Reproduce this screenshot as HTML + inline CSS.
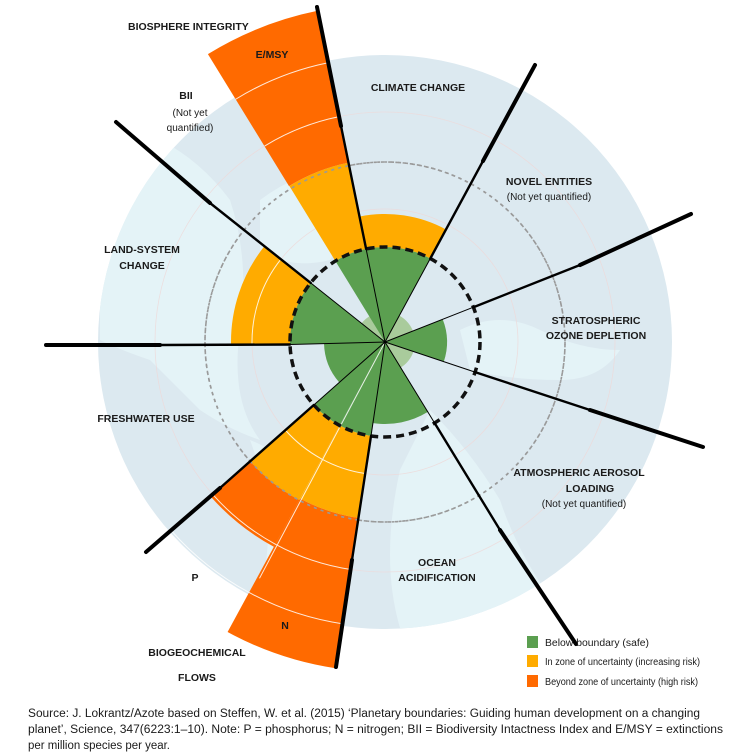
<!DOCTYPE html>
<html><head><meta charset="utf-8"><style>
html,body{margin:0;padding:0;background:#fff;}
svg{display:block;}
text{font-family:"Liberation Sans",sans-serif;fill:#1a1a1a;}
.lb{font-size:10.5px;font-weight:bold;}
.sm{font-size:10px;}
</style></head><body>
<svg width="748" height="755" viewBox="0 0 748 755" xmlns="http://www.w3.org/2000/svg">
<defs><clipPath id="g"><circle cx="385" cy="342" r="287"/></clipPath></defs>
<circle cx="385" cy="342" r="287" fill="#dce9f0"/>
<g fill="#e4f3f7" clip-path="url(#g)">
<path d="M100 300 Q110 200 160 140 Q200 160 230 200 Q250 260 240 330 Q230 400 260 440 Q230 430 200 410 Q170 380 150 360 Q120 350 100 340 Z"/>
<path d="M260 200 Q300 170 340 170 Q350 230 330 260 Q290 270 260 250 Z"/>
<path d="M250 440 Q300 460 340 520 Q360 600 330 628 Q280 620 260 590 Q280 520 250 440 Z"/>
<path d="M430 410 Q470 450 500 500 Q520 560 560 610 Q480 630 400 628 Q380 560 400 470 Z"/>
<path d="M460 330 Q500 310 540 330 Q580 350 620 350 Q600 380 560 380 Q510 380 470 370 Z"/>
<path d="M130 510 Q170 540 210 600 Q160 580 130 540 Z"/>
</g>
<g fill="none" stroke="#eed9d9" stroke-width="0.8" opacity="0.8">
<circle cx="385" cy="342" r="133"/><circle cx="385" cy="342" r="230"/>
</g>
<circle cx="385" cy="342" r="180" fill="none" stroke="#9a9a9a" stroke-width="1.6" stroke-dasharray="3 4"/>
<circle cx="385" cy="342" r="30" fill="#a9cb9c"/>
<g fill="none">
<circle cx="385" cy="342" r="47.5" stroke="#5b9f50" stroke-width="95" pathLength="360" stroke-dasharray="40 320" transform="rotate(-101.5 385 342)"/>
<circle cx="385" cy="342" r="111.5" stroke="#ffab00" stroke-width="33" pathLength="360" stroke-dasharray="40 320" transform="rotate(-101.5 385 342)"/>
<circle cx="385" cy="342" r="31" stroke="#5b9f50" stroke-width="62" pathLength="360" stroke-dasharray="40 320" transform="rotate(-21.5 385 342)"/>
<circle cx="385" cy="342" r="41" stroke="#5b9f50" stroke-width="82" pathLength="360" stroke-dasharray="40 320" transform="rotate(58.5 385 342)"/>
<circle cx="385" cy="342" r="47.5" stroke="#5b9f50" stroke-width="95" pathLength="360" stroke-dasharray="20 340" transform="rotate(98.5 385 342)"/>
<circle cx="385" cy="342" r="136.5" stroke="#ffab00" stroke-width="83" pathLength="360" stroke-dasharray="20 340" transform="rotate(98.5 385 342)"/>
<circle cx="385" cy="342" r="254" stroke="#ff6a00" stroke-width="152" pathLength="360" stroke-dasharray="20 340" transform="rotate(98.5 385 342)"/>
<circle cx="385" cy="342" r="47.5" stroke="#5b9f50" stroke-width="95" pathLength="360" stroke-dasharray="20 340" transform="rotate(118.5 385 342)"/>
<circle cx="385" cy="342" r="137.5" stroke="#ffab00" stroke-width="85" pathLength="360" stroke-dasharray="20 340" transform="rotate(118.5 385 342)"/>
<circle cx="385" cy="342" r="206.5" stroke="#ff6a00" stroke-width="53" pathLength="360" stroke-dasharray="20 340" transform="rotate(118.5 385 342)"/>
<circle cx="385" cy="342" r="30.5" stroke="#5b9f50" stroke-width="61" pathLength="360" stroke-dasharray="40 320" transform="rotate(138.5 385 342)"/>
<circle cx="385" cy="342" r="47.5" stroke="#5b9f50" stroke-width="95" pathLength="360" stroke-dasharray="40 320" transform="rotate(178.5 385 342)"/>
<circle cx="385" cy="342" r="124.5" stroke="#ffab00" stroke-width="59" pathLength="360" stroke-dasharray="40 320" transform="rotate(178.5 385 342)"/>
<circle cx="385" cy="342" r="47.5" stroke="#5b9f50" stroke-width="95" pathLength="360" stroke-dasharray="20 340" transform="rotate(238.5 385 342)"/>
<circle cx="385" cy="342" r="139" stroke="#ffab00" stroke-width="88" pathLength="360" stroke-dasharray="20 340" transform="rotate(238.5 385 342)"/>
<circle cx="385" cy="342" r="260.5" stroke="#ff6a00" stroke-width="155" pathLength="360" stroke-dasharray="20 340" transform="rotate(238.5 385 342)"/>
</g>
<g fill="none" stroke="#fff" stroke-width="1" opacity="0.85">
<circle cx="385" cy="342" r="133" pathLength="360" stroke-dasharray="40 320" transform="rotate(98.5 385 342)"/>
<circle cx="385" cy="342" r="230" pathLength="360" stroke-dasharray="40 320" transform="rotate(98.5 385 342)"/>
<circle cx="385" cy="342" r="285" pathLength="360" stroke-dasharray="40 320" transform="rotate(98.5 385 342)"/>
<circle cx="385" cy="342" r="133" pathLength="360" stroke-dasharray="40 320" transform="rotate(178.5 385 342)"/>
<circle cx="385" cy="342" r="230" pathLength="360" stroke-dasharray="20 340" transform="rotate(238.5 385 342)"/>
<circle cx="385" cy="342" r="285" pathLength="360" stroke-dasharray="20 340" transform="rotate(238.5 385 342)"/>
<line x1="385" y1="342" x2="259.5" y2="578.3"/>
</g>
<circle cx="385" cy="342" r="180" fill="none" stroke="#9a9a9a" stroke-width="1.6" pathLength="360" stroke-dasharray="1 1.3" transform="rotate(98.5 385 342)"/>
<circle cx="385" cy="342" r="95" fill="none" stroke="#111" stroke-width="3.5" stroke-dasharray="8 5"/>
<g stroke="#000" stroke-linecap="round">
<g stroke-width="1">
<line x1="385" y1="342" x2="366.1" y2="248.9"/><line x1="385" y1="342" x2="430.3" y2="258.5"/>
<line x1="385" y1="342" x2="473.4" y2="307.2"/><line x1="385" y1="342" x2="475.1" y2="372.1"/>
<line x1="385" y1="342" x2="434.6" y2="423"/><line x1="385" y1="342" x2="371" y2="436"/>
<line x1="385" y1="342" x2="313.8" y2="405"/><line x1="385" y1="342" x2="290" y2="344.5"/>
<line x1="385" y1="342" x2="310.7" y2="282.9"/>
</g>
<g stroke-width="2.4">
<line x1="366.1" y1="248.9" x2="341" y2="126"/><line x1="430.3" y1="258.5" x2="483" y2="161"/>
<line x1="473.4" y1="307.2" x2="580" y2="265"/><line x1="475.1" y1="372.1" x2="590" y2="410"/>
<line x1="434.6" y1="423" x2="500" y2="530"/><line x1="371" y1="436" x2="352" y2="560"/>
<line x1="313.8" y1="405" x2="220" y2="488"/><line x1="290" y1="344.5" x2="160" y2="345"/>
<line x1="310.7" y1="282.9" x2="210" y2="203"/>
</g>
<g stroke-width="4">
<line x1="341" y1="126" x2="317" y2="7"/><line x1="483" y1="161" x2="535" y2="65"/>
<line x1="580" y1="265" x2="691" y2="214"/><line x1="590" y1="410" x2="703" y2="447"/>
<line x1="500" y1="530" x2="576" y2="644"/><line x1="352" y1="560" x2="336" y2="667"/>
<line x1="220" y1="488" x2="146" y2="552"/><line x1="160" y1="345" x2="46" y2="345"/>
<line x1="210" y1="203" x2="116" y2="122"/>
</g>
</g>
<text class="lb" x="128" y="30">BIOSPHERE INTEGRITY</text>
<text class="lb" x="272" y="58" text-anchor="middle" font-size="12">E/MSY</text>
<text class="lb" x="186" y="99" text-anchor="middle" font-size="12">BII</text>
<text class="sm" x="190" y="116" text-anchor="middle">(Not yet</text>
<text class="sm" x="190" y="131" text-anchor="middle">quantified)</text>
<text class="lb" x="418" y="91" text-anchor="middle">CLIMATE CHANGE</text>
<text class="lb" x="549" y="185" text-anchor="middle">NOVEL ENTITIES</text>
<text class="sm" x="549" y="200" text-anchor="middle">(Not yet quantified)</text>
<text class="lb" x="596" y="324" text-anchor="middle">STRATOSPHERIC</text>
<text class="lb" x="596" y="339" text-anchor="middle">OZONE DEPLETION</text>
<text class="lb" x="142" y="253" text-anchor="middle">LAND-SYSTEM</text>
<text class="lb" x="142" y="269" text-anchor="middle">CHANGE</text>
<text class="lb" x="146" y="422" text-anchor="middle">FRESHWATER USE</text>
<text class="lb" x="579" y="476" text-anchor="middle">ATMOSPHERIC AEROSOL</text>
<text class="lb" x="590" y="492" text-anchor="middle">LOADING</text>
<text class="sm" x="584" y="507" text-anchor="middle">(Not yet quantified)</text>
<text class="lb" x="437" y="566" text-anchor="middle">OCEAN</text>
<text class="lb" x="437" y="581" text-anchor="middle">ACIDIFICATION</text>
<text class="lb" x="195" y="581" text-anchor="middle" font-size="12">P</text>
<text class="lb" x="285" y="629" text-anchor="middle" font-size="12">N</text>
<text class="lb" x="197" y="656" text-anchor="middle">BIOGEOCHEMICAL</text>
<text class="lb" x="197" y="681" text-anchor="middle">FLOWS</text>
<rect x="527" y="636" width="11" height="12" fill="#5b9f50"/>
<rect x="527" y="655" width="11" height="12" fill="#ffab00"/>
<rect x="527" y="675" width="11" height="12" fill="#ff6a00"/>
<text class="sm" x="545" y="646" textLength="104" lengthAdjust="spacingAndGlyphs">Below boundary (safe)</text>
<text class="sm" x="545" y="665" textLength="155" lengthAdjust="spacingAndGlyphs">In zone of uncertainty (increasing risk)</text>
<text class="sm" x="545" y="685" textLength="153" lengthAdjust="spacingAndGlyphs">Beyond zone of uncertainty (high risk)</text>
<text x="28" y="717" textLength="672" lengthAdjust="spacingAndGlyphs" style="font-size:11.5px">Source: J. Lokrantz/Azote based on Steffen, W. et al. (2015) ‘Planetary boundaries: Guiding human development on a changing</text>
<text x="28" y="733" textLength="695" lengthAdjust="spacingAndGlyphs" style="font-size:11.5px">planet’, Science, 347(6223:1–10). Note: P = phosphorus; N = nitrogen; BII = Biodiversity Intactness Index and E/MSY = extinctions</text>
<text x="28" y="749" textLength="142" lengthAdjust="spacingAndGlyphs" style="font-size:11.5px">per million species per year.</text>
</svg>
</body></html>
